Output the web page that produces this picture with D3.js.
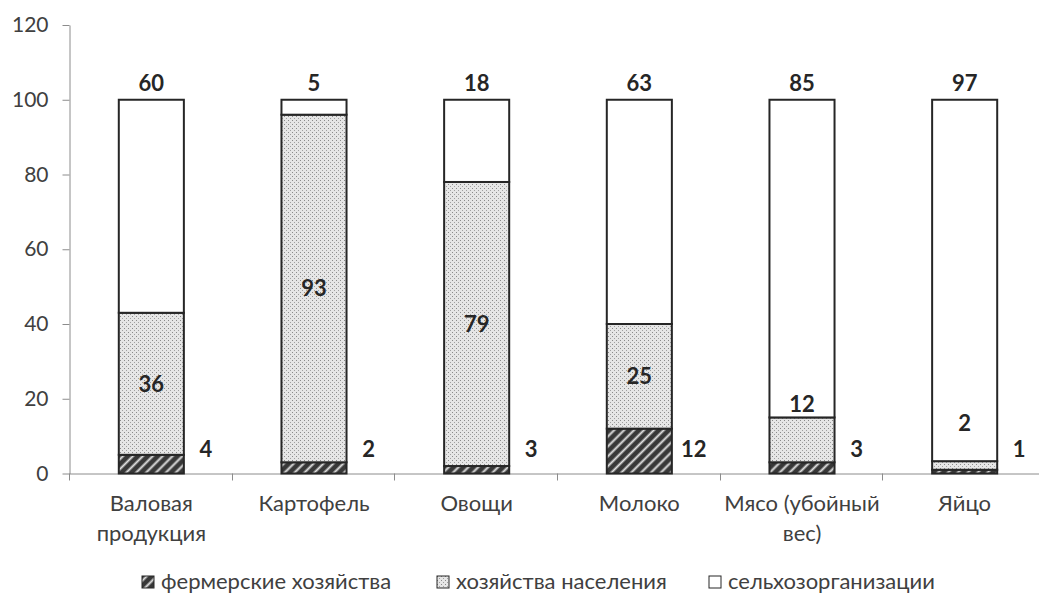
<!DOCTYPE html>
<html>
<head>
<meta charset="utf-8">
<script src="https://cdn.jsdelivr.net/npm/d3@7"></script>
<style>
  body { margin: 0; background: #fff; }
  svg { display: block; font-family: Lato, "Open Sans", sans-serif; }
</style>
</head>
<body>
<div id="chart"></div>
<script>
// categories (line breaks as in the picture)
var categories = [["Валовая", "продукция"], ["Картофель"], ["Овощи"], ["Молоко"], ["Мясо (убойный", "вес)"], ["Яйцо"]];
var seriesNames = ["фермерские хозяйства", "хозяйства населения", "сельхозорганизации"];

// bar segment heights as drawn
var farmers = [5, 3, 2, 12, 3, 1];
var households = [38, 93, 76, 28, 12, 2.3];
var organizations = [57, 4, 22, 60, 85, 96.7];

// data label texts
var farmersLabels = ["4", "2", "3", "12", "3", "1"];
var householdsLabels = ["36", "93", "79", "25", "12", "2"];
var organizationsLabels = ["60", "5", "18", "63", "85", "97"];

var yTicks = [0, 20, 40, 60, 80, 100, 120];

var W = 1039, H = 595;
var svg = d3.select("#chart").append("svg")
    .attr("width", W)
    .attr("height", H);

// patterns
var defs = svg.append("defs");
var hatch = defs.append("pattern")
    .attr("id", "hatch")
    .attr("patternUnits", "userSpaceOnUse")
    .attr("width", 7).attr("height", 7)
    .attr("patternTransform", "rotate(45)");
hatch.append("rect").attr("width", 7).attr("height", 7).attr("fill", "#383838");
hatch.append("line").attr("x1", 3.5).attr("y1", 0).attr("x2", 3.5).attr("y2", 7)
    .attr("stroke", "#e0e0e0").attr("stroke-width", 2);

var dots = defs.append("pattern")
    .attr("id", "dots")
    .attr("patternUnits", "userSpaceOnUse")
    .attr("width", 4).attr("height", 4);
dots.append("rect").attr("width", 4).attr("height", 4).attr("fill", "#e6e6e6");
dots.append("rect").attr("x", 0).attr("y", 0).attr("width", 1).attr("height", 1).attr("fill", "#8a8a8a");
dots.append("rect").attr("x", 2).attr("y", 2).attr("width", 1).attr("height", 1).attr("fill", "#a0a0a0");

var fills = ["url(#hatch)", "url(#dots)", "#ffffff"];

var y = d3.scaleLinear().domain([0, 120]).range([473.5, 25]);
var x = d3.scaleBand()
    .domain(d3.range(categories.length))
    .range([70, 1046])
    .paddingInner(0.6)
    .paddingOuter(0.3);

// y axis
var yAxis = svg.append("g")
    .attr("transform", "translate(69.5,0)")
    .call(d3.axisLeft(y).tickValues(yTicks).tickSize(7).tickPadding(14).tickSizeOuter(0));
yAxis.select(".domain").attr("stroke", "#8c8c8c");
yAxis.selectAll(".tick line").attr("stroke", "#8c8c8c");
yAxis.selectAll(".tick text")
    .attr("font-family", "Lato, sans-serif")
    .attr("font-size", 21)
    .attr("fill", "#404040");

// x axis line and category boundary ticks
svg.append("line")
    .attr("x1", 69.5).attr("x2", W)
    .attr("y1", y(0) + 0.5).attr("y2", y(0) + 0.5)
    .attr("stroke", "#8c8c8c");
var bounds = d3.range(categories.length + 1).map(function(i) {
  return 70 + i * x.step();
});
svg.selectAll(".xtick").data(bounds).enter().append("line")
    .attr("class", "xtick")
    .attr("x1", function(d) { return Math.round(d) - 0.5; })
    .attr("x2", function(d) { return Math.round(d) - 0.5; })
    .attr("y1", y(0)).attr("y2", y(0) + 7)
    .attr("stroke", "#8c8c8c");

// category labels
var catG = svg.selectAll(".cat").data(categories).enter().append("text")
    .attr("class", "cat")
    .attr("text-anchor", "middle")
    .attr("font-size", 22)
    .attr("fill", "#404040");
catG.selectAll("tspan").data(function(d, i) {
  return d.map(function(s) { return {s: s, i: i}; });
}).enter().append("tspan")
    .attr("x", function(d) { return x(d.i) + x.bandwidth() / 2; })
    .attr("y", function(d, j) { return 511 + j * 30; })
    .text(function(d) { return d.s; });

// stacked data
var rows = categories.map(function(c, i) {
  return {i: i, f: farmers[i], h: households[i], o: organizations[i]};
});
var stack = d3.stack().keys(["f", "h", "o"]);
var layers = stack(rows);

svg.append("g").selectAll("g").data(layers).enter().append("g")
    .attr("fill", function(d, k) { return fills[k]; })
  .selectAll("rect").data(function(d) { return d; }).enter().append("rect")
    .attr("x", function(d) { return x(d.data.i); })
    .attr("width", x.bandwidth())
    .attr("y", function(d) { return y(d[1]); })
    .attr("height", function(d) { return y(d[0]) - y(d[1]); })
    .attr("stroke", "#262626")
    .attr("stroke-width", 2);

// data labels
var lab = svg.append("g")
    .attr("font-weight", "bold")
    .attr("font-size", 22)
    .attr("fill", "#262626")
    .attr("text-anchor", "middle");

// farmers: right of the bar, near the base
lab.selectAll(".lf").data(rows).enter().append("text")
    .attr("x", function(d) { return x(d.i) + x.bandwidth() + 22; })
    .attr("y", y(0) - 17)
    .text(function(d) { return farmersLabels[d.i]; });

// households: centre of segment, above it when the segment is small
lab.selectAll(".lh").data(rows).enter().append("text")
    .attr("x", function(d) { return x(d.i) + x.bandwidth() / 2; })
    .attr("y", function(d) {
      var top = d.f + d.h;
      var c = d.h < 15 ? Math.max(top + 3.5, 13.5) : d.f + d.h / 2;
      return y(c);
    })
    .attr("dy", "0.35em")
    .text(function(d) { return householdsLabels[d.i]; });

// organizations: above the bar
lab.selectAll(".lo").data(rows).enter().append("text")
    .attr("x", function(d) { return x(d.i) + x.bandwidth() / 2; })
    .attr("y", y(100) - 9)
    .text(function(d) { return organizationsLabels[d.i]; });

// legend
var legendX = [142, 437, 709];
var leg = svg.append("g").selectAll("g").data(seriesNames).enter().append("g")
    .attr("transform", function(d, i) { return "translate(" + legendX[i] + ",576)"; });
leg.append("rect")
    .attr("width", 12).attr("height", 12)
    .attr("fill", function(d, i) { return fills[i]; })
    .attr("stroke", "#262626")
    .attr("stroke-width", 1);
leg.append("text")
    .attr("x", 19)
    .attr("y", 12.5)
    .attr("font-size", 22)
    .attr("fill", "#404040")
    .text(function(d) { return d; });
</script>
</body>
</html>
